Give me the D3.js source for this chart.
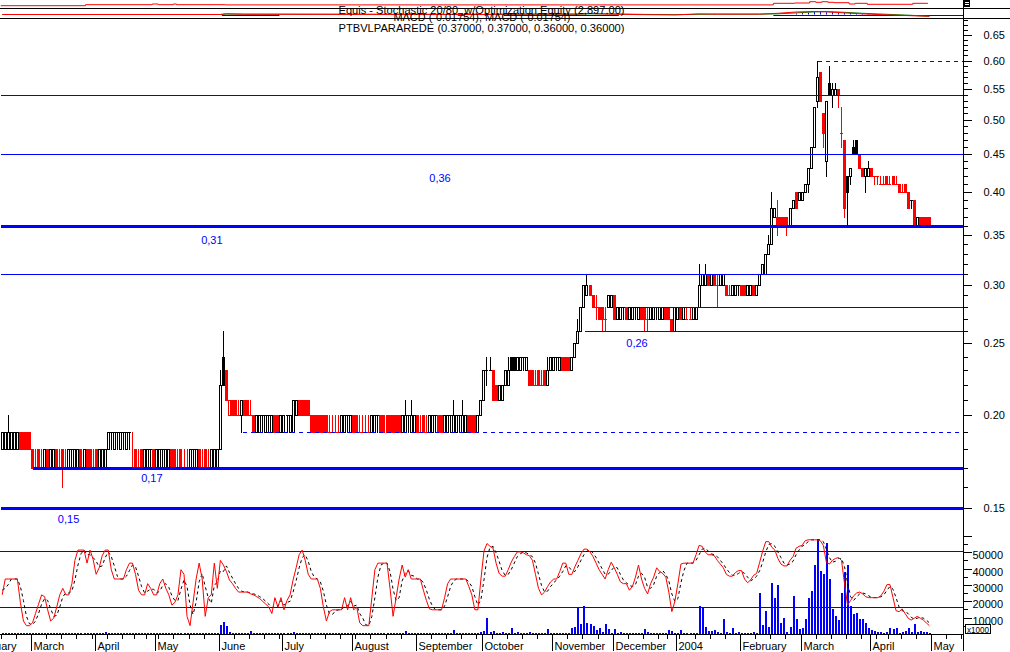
<!DOCTYPE html>
<html>
<head>
<meta charset="utf-8">
<script src="https://cdn.jsdelivr.net/npm/d3@7/dist/d3.min.js"></script>
<style>
html,body{margin:0;padding:0;background:#fff;overflow:hidden;}
svg{display:block;}
text{font-family:"Liberation Sans",Arial,sans-serif;}
</style>
</head>
<body>
<svg id="chart" width="1010" height="652"></svg>
<script>
// ================= DATA =================
// Daily candles of PTBVLPARAREDE, prices in euro cents; index 0 = 2003-02-17
const firstDate = "2003-02-17";
const opens = [18,18,18,18,18,18,19,19,19,19,
 18,17,18,17,17,18,17,17,18,17, 18,17,17,18,17,17,18,17,18,18,
 17,18,17,17,17,18,19,18,19,18, 19,18,19,17,18,17,18,17,17,18,
 18,17,17,18,17,17,18,18,17,18, 17,17,17,18,17,18,17,18,17,17,
 17,17,18,24,23,20,21,21,20,20, 21,21,20,20,19,19,20,19,20,19,
 20,20,19,19,20,19,19,20,21,21, 21,21,20,20,20,20,20,20,19,19,
 19,19,19,19,20,19,20,20,19,19, 19,19,19,19,20,20,20,20,20,20,
 20,20,19,19,20,19,19,20,19,20, 19,19,19,20,20,20,19,19,20,19,
 19,20,19,19,20,20,20,19,20,21, 23,23,23,22,21,21,22,22,24,24,
 23,23,24,23,23,23,22,23,22,23, 22,23,23,24,23,24,24,24,23,24,
 25,26,28,29,30,29,28,28,28,27, 28,28,29,27,27,28,28,27,27,28,
 27,28,28,27,27,27,28,27,27,28, 28,27,26,27,28,27,27,27,27,27,
 28,30,30,31,30,31,30,30,30,30, 29,29,29,30,30,30,29,29,30,29,
 30,31,31,33,34,37,37,37,37,37, 36,38,40,39,39,40,41,43,46,53,
 58,51,44,56,54,54,55,48,47,42, 42,46,47,45,43,42,42,43,42,42,
 41,41,42,41,42,41,41,40,41,40, 39,39,36,37,37,37,37];
const highs = [19,19,20,19,19,19,19,19,19,19,
 18,18,18,18,18,18,18,18,18,18, 18,18,18,18,18,18,18,18,18,18,
 18,18,18,18,18,19,19,19,19,19, 19,19,19,19,18,18,18,18,18,18,
 18,18,18,18,18,18,18,18,18,18, 18,18,18,18,18,18,18,18,18,18,
 18,18,23,26,23,21,21,21,21,21, 21,21,21,20,20,20,20,20,20,20,
 20,20,20,20,20,20,21,21,21,21, 21,21,20,20,20,20,20,20,20,20,
 20,20,20,20,20,20,20,20,20,20, 20,20,20,20,20,20,20,20,20,20,
 20,20,20,21,20,21,20,20,20,20, 20,20,20,20,20,20,20,20,20,21,
 20,20,21,20,20,20,20,20,21,23, 24,24,23,22,22,22,23,24,24,24,
 24,24,24,24,23,23,23,23,23,23, 24,24,24,24,24,24,24,24,24,25,
 27,28,30,31,30,29,29,28,28,28, 29,29,29,28,28,28,28,28,28,28,
 28,28,28,28,28,28,28,28,28,28, 28,27,28,28,28,28,28,28,28,28,
 32,31,32,31,31,31,31,31,31,30, 30,30,30,30,30,30,30,30,30,30,
 31,32,33,35,40,38,39,37,37,37, 38,39,40,40,40,41,43,46,52,60,
 58,51,53,59,56,56,55,52,47,42, 43,47,47,45,43,43,44,43,42,42,
 42,42,42,42,42,42,41,41,41,40, 39,39,37,37,37,37,37];
const lows = [18,18,18,18,18,18,18,18,18,18,
 17,17,17,17,17,17,17,17,17,17, 16,17,17,17,17,17,17,17,17,17,
 17,17,17,17,17,18,18,18,18,18, 18,18,18,17,17,17,17,17,17,17,
 17,17,17,17,17,17,17,17,17,17, 17,17,17,17,17,17,17,17,17,17,
 17,17,18,22,21,20,20,20,20,19, 20,20,20,19,19,19,19,19,19,19,
 19,19,19,19,19,19,19,20,20,20, 20,20,19,19,19,19,19,19,19,19,
 19,19,19,19,19,19,19,19,19,19, 19,19,19,19,19,19,19,19,19,19,
 19,19,19,19,19,19,19,19,19,19, 19,19,19,19,19,19,19,19,19,19,
 19,19,19,19,19,19,19,19,20,21, 22,23,21,21,21,21,22,22,23,23,
 23,23,23,23,22,22,22,22,22,22, 22,23,23,23,23,23,23,23,23,24,
 25,26,28,29,29,28,27,27,26,26, 28,28,27,27,27,27,27,27,27,27,
 27,27,26,26,27,27,27,27,27,27, 27,26,26,27,27,27,27,27,27,27,
 28,30,30,30,30,30,28,30,30,29, 29,29,29,29,29,29,29,29,29,29,
 30,31,31,33,34,37,35,36,36,35, 36,38,38,39,39,40,40,43,46,52,
 53,46,42,54,52,54,52,46,37,36, 41,45,45,43,42,40,42,42,41,41,
 41,41,41,41,41,41,40,40,40,38, 38,36,36,36,36,36,36];
const closes = [19,19,19,19,19,19,18,18,18,18,
 17,17,17,17,18,17,18,18,17,17, 17,17,18,18,18,18,17,18,17,17,
 17,17,18,18,18,19,19,19,19,19, 19,19,19,17,17,17,17,18,18,18,
 17,18,18,18,18,18,17,17,17,17, 17,17,18,18,18,17,17,17,17,18,
 18,18,22,22,21,21,20,20,20,21, 20,20,20,19,20,20,20,20,20,20,
 19,19,20,20,20,20,21,21,20,20, 20,20,19,19,19,19,19,19,19,19,
 19,19,20,20,20,20,19,19,19,19, 19,19,20,20,20,19,19,19,19,19,
 19,19,20,20,20,20,20,19,19,19, 19,20,20,20,19,19,20,20,20,20,
 20,20,20,20,19,19,19,20,21,23, 23,23,21,21,22,22,23,23,23,23,
 24,24,24,24,22,22,22,22,22,22, 23,24,24,24,24,23,23,23,24,25,
 26,28,30,30,29,28,28,27,27,27, 29,29,27,28,28,28,27,28,28,28,
 28,27,27,27,28,28,28,28,28,27, 27,26,28,28,27,28,27,27,28,28,
 30,31,31,30,31,30,30,31,31,29, 29,30,30,30,29,29,30,30,29,30,
 31,32,33,34,38,38,36,36,36,36, 38,39,38,40,40,41,43,46,52,57,
 53,48,53,54,55,55,54,48,38,40, 43,45,45,43,42,43,43,42,42,42,
 41,41,41,41,41,41,40,40,40,38, 39,36,37,36,36,36,36];
// volume (x1000)
const volumes = [500,600,700,400,500,600,500,400,600,500,
 500,400,600,500,700,500,400,500,600,500, 800,500,400,600,500,500,700,400,500,600,
 500,600,400,500,1400,500,600,500,400,500, 600,500,400,700,500,600,500,400,500,600,
 500,400,600,500,500,600,400,500,700,500, 600,500,400,500,600,500,400,600,500,500,
 400,600,5500,7300,4800,1000,600,500,400,600, 500,600,1800,500,400,500,600,500,400,500,
 600,500,400,500,600,500,1200,500,400,600, 500,400,600,500,500,600,400,500,600,500,
 400,500,600,500,400,600,500,500,400,600, 500,600,400,500,600,500,400,500,600,500,
 400,500,600,2000,500,400,600,500,500,400, 600,500,400,500,600,500,400,600,500,2400,
 500,400,600,500,500,600,400,500,1200,1800, 10000,1000,1800,600,500,1200,500,600,3800,500,
 1200,500,600,400,1200,500,900,500,600,400, 2800,500,600,500,400,600,500,500,3800,4400,
 16300,6000,17300,6900,6000,4800,2400,3400,1200,6000, 3000,600,3000,500,1200,500,600,400,500,600,
 500,600,3000,1200,500,400,600,500,500,600, 2400,1800,500,600,2400,500,400,600,500,600,
 17000,16300,4400,1800,1800,2400,1200,600,9100,1200, 600,3400,500,1200,500,400,600,600,1200,500,
 25200,5500,14200,4000,31500,21800,29900,6900,10000,1200, 4300,23200,9100,3000,3400,8900,22200,26200,42500,58000,
 38600,36600,55700,33900,15000,11000,8500,25200,38000,42100, 17000,12200,12600,9100,8900,6500,3900,2400,2000,1200,
 1200,600,1200,3900,2800,3400,600,1200,1800,3900, 1200,5900,1200,1800,1200,1200,800];
// Stochastic %K (red) and %D (black dashed)
const stochK = [33,50,50,50,50,50,25,5,0,0,
 3,13,23,33,31,17,5,8,20,33, 40,33,33,45,70,81,81,81,67,81,
 71,55,62,75,81,81,60,50,50,50, 50,60,67,67,55,38,33,33,45,40,
 33,33,45,50,40,33,22,25,33,60, 55,10,0,25,50,67,50,10,30,33,
 67,40,70,65,58,49,45,40,36,36, 36,36,34,33,31,29,26,23,20,13,
 30,20,30,17,27,33,49,62,76,81, 70,55,50,50,50,40,20,5,15,17,
 17,17,17,30,17,30,17,20,3,0, 0,0,30,60,67,67,67,67,40,10,
 30,50,65,52,60,50,50,50,50,38, 27,18,17,17,17,17,30,45,50,50,
 50,50,50,50,42,33,17,17,50,80, 88,85,83,67,56,53,53,60,68,74,
 79,79,78,76,75,70,55,40,33,36, 42,47,50,50,58,67,67,55,55,63,
 70,77,82,82,79,74,67,60,55,50, 60,68,62,55,47,45,45,38,42,52,
 65,50,40,34,45,52,62,58,56,52, 36,15,26,45,66,67,67,67,67,76,
 86,85,79,76,76,75,70,66,62,55, 53,53,57,59,59,50,46,49,54,56,
 68,80,90,90,84,81,72,66,64,64, 70,74,83,85,86,91,92,92,92,92,
 91,86,68,66,70,72,73,70,45,22, 27,32,35,36,34,31,30,30,30,30,
 32,37,44,44,30,16,15,18,13,8, 6,8,10,8,6,3,0];
const stochD = [38,40,44,50,50,50,42,27,10,2,
 1,5,13,23,29,27,18,10,11,20, 31,35,35,37,49,65,77,81,76,76,
 73,69,63,64,73,79,74,64,53,50, 50,53,59,65,63,53,42,35,37,39,
 39,35,37,43,45,41,32,27,27,39, 49,42,22,12,25,47,56,42,30,24,
 43,47,59,58,64,57,51,45,40,37, 36,36,35,34,33,31,29,26,23,19,
 21,21,27,22,25,26,36,48,62,73, 76,69,58,52,50,47,37,22,13,12,
 16,17,17,21,21,26,21,22,13,8, 1,0,10,30,52,65,67,67,58,39,
 27,30,48,56,59,54,53,50,50,46, 38,28,21,17,17,17,21,31,42,48,
 50,50,50,50,47,42,31,22,28,49, 73,84,85,78,69,59,54,55,60,67,
 74,77,79,78,76,74,67,55,43,36, 37,42,46,49,53,58,64,63,59,58,
 63,70,76,80,81,78,73,67,61,55, 55,59,63,62,55,49,46,43,42,44,
 53,56,52,41,40,44,53,57,59,55, 48,34,26,29,46,59,67,67,67,70,
 76,82,83,80,77,76,74,70,66,61, 57,54,54,56,58,56,52,48,50,53,
 59,68,79,87,88,85,79,73,67,65, 66,69,76,81,85,87,90,92,92,92,
 92,90,82,73,68,69,72,72,63,46, 31,27,31,34,35,34,32,30,30,30,
 31,33,38,42,39,30,20,16,15,13, 9,7,8,9,8,6,3];
const stochLevels = [80, 20];
// Price axis ticks (cents)
const priceMajorTicks = [15,20,25,30,35,40,45,50,55,60,65];
const priceMinorTicks = d3.range(15, 70);
const volumeLabelTicks = [10000,20000,30000,40000,50000];
const volumeMinorTicks = [5000,10000,15000,20000,25000,30000,35000,40000,45000,50000,55000,60000];
// Support / resistance lines (cents) and the trading-day index they start from
const supportLevels = [54,45,36,31,28,26,19,17,15,60];
const supportFrom   = [0,0,0,0,211,193,80,10.6,0,269.6];
const levelLabels      = ["0,36","0,31","0,26","0,17","0,15"];
const levelLabelIdx    = [145,69.7,210,49.9,22.4];
const levelLabelPrice  = [41.7,34.4,25.0,16.5,14.5];
// Exchange holidays (Euronext Lisbon)
const holidays = ["2003-04-18","2003-04-21","2003-05-01","2003-12-25","2003-12-26","2004-01-01","2004-04-09","2004-04-12"];
// Header mini panels: optimisation equity and MACD
const equityIdx = [0,28,50,52,57,58,74,255,262,267,269,271,273,275,280,282,286,301,306];
const equityVal = [1700,2200,2550,2200,2550,2200,2100,2900,3050,3700,3400,3700,3400,3200,2550,2900,2400,2900,2897];
const macdIdx   = [0,72,74,80,160,166,190,194,200,212,222,230,236,250,256,262,268,272,278,284,292,300,306];
const macdVal   = [0,0,0.008,0.002,0,0.004,0.005,0.01,0.004,-0.002,-0.004,0.006,0.003,0.004,0.012,0.025,0.03,0.027,0.016,0.006,-0.004,-0.012,-0.0175];
const signalVal = [0,0,0.004,0.004,0.001,0.002,0.003,0.007,0.006,0.001,-0.002,0.002,0.004,0.003,0.007,0.016,0.026,0.029,0.022,0.012,0.002,-0.008,-0.0175];
const macdHistIdx = [262,264,266,268,270,272,274,276,278,280,282,284,286,288,290];
const macdHistVal = [0.01,0.014,0.02,0.025,0.028,0.022,0.024,0.02,0.018,0.014,0.012,0.01,0.008,0.006,0.004];
const zeroFrom = [73,166,255], zeroTo = [92,204,318];

// ================= CHECK =================
const N = closes.length;
[opens,highs,lows,volumes,stochK,stochD].forEach((a,k)=>{ if(a.length!==N) throw new Error("length mismatch "+k+": "+a.length+" vs "+N); });

// ================= DRAW =================
const RED="#ff0000", BLK="#000000", BLUE="#0000ff", GRN="#008000";
const svg = d3.select("#chart");
svg.append("rect").attr("width",1010).attr("height",652).attr("fill","#fff");
const AX = 963.5;

const xS = d3.scaleLinear().domain([0,1]).range([0.7,3.73]);   // left edge of each day slot
const yP = d3.scaleLog().domain([15,60]).range([508.3,60.8]);
const yS = d3.scaleLinear().domain([20,80]).range([607,551]);
const yV = d3.scaleLinear().domain([0,50000]).range([634,552.3]);
const yEq = d3.scaleLinear().domain([1550,4550]).range([6,0]);
const yM = d3.scaleLinear().domain([-0.03,0.05]).range([17.5,9.5]);
const idx = d3.range(N);
const px = i => Math.round(xS(i));
const py = v => Math.round(yP(v));

// ---- header ----
const gH = svg.append("g");
gH.append("path").datum(equityIdx.map((d,k)=>[d,equityVal[k]]))
  .attr("d", d3.line().x(d=>xS(d[0])).y(d=>yEq(d[1])).curve(d3.curveStepAfter))
  .attr("fill","none").attr("stroke",RED).attr("stroke-width",1);
[8.5,18.5].forEach(y=>gH.append("line").attr("x1",0).attr("x2",1010).attr("y1",y).attr("y2",y).attr("stroke",BLK));
zeroFrom.forEach((f,k)=>gH.append("line").attr("x1",xS(f)).attr("x2",Math.min(AX,xS(zeroTo[k]))).attr("y1",15.5).attr("y2",15.5).attr("stroke",BLUE));
gH.selectAll(null).data(macdHistIdx).join("line")
  .attr("x1",(d)=>px(d)+1.5).attr("x2",d=>px(d)+1.5)
  .attr("y1",yM(0)).attr("y2",(d,k)=>yM(macdHistVal[k])).attr("stroke",BLUE);
gH.append("path").datum(macdIdx.map((d,k)=>[d,signalVal[k]]))
  .attr("d", d3.line().x(d=>xS(d[0])+1.5).y(d=>yM(d[1])))
  .attr("fill","none").attr("stroke",GRN);
gH.append("path").datum(macdIdx.map((d,k)=>[d,macdVal[k]]))
  .attr("d", d3.line().x(d=>xS(d[0])+1.5).y(d=>yM(d[1])))
  .attr("fill","none").attr("stroke",RED);
const hdr = [["Equis - Stochastic 20/80_w/Optimization Equity (2,897.00)",338.5,14,286],
             ["MACD (-0.01754), MACD (-0.01754)",393.5,21,177],
             ["PTBVLPARAREDE (0.37000, 0.37000, 0.36000, 0.36000)",338.5,32,286]];
hdr.forEach(h=>gH.append("text").text(h[0]).attr("x",h[1]).attr("y",h[2]).attr("font-size","10.5px")
  .attr("textLength",h[3]).attr("lengthAdjust","spacingAndGlyphs").attr("fill",BLK));
gH.append("rect").attr("x",964).attr("y",0).attr("width",6).attr("height",7).attr("fill",BLK);
[2,4].forEach(y=>gH.append("rect").attr("x",965).attr("y",y).attr("width",4).attr("height",1).attr("fill","#fff"));

// ---- candles ----
const cols = []; let pc = BLK;
closes.forEach((c,i)=>{ if(i>0){ if(c<closes[i-1]) pc=RED; else if(c>closes[i-1]) pc=BLK; } cols.push(pc); });
const gC = svg.append("g").attr("shape-rendering","crispEdges");
gC.selectAll(null).data(idx).join("rect")
  .attr("x",i=>px(i)+1).attr("y",i=>py(highs[i])).attr("width",1)
  .attr("height",i=>py(lows[i])-py(highs[i])+1).attr("fill",i=>cols[i]);
gC.selectAll(null).data(idx).join("rect")
  .attr("x",px).attr("y",i=>py(Math.max(opens[i],closes[i]))).attr("width",3)
  .attr("height",i=>Math.max(1,py(Math.min(opens[i],closes[i]))-py(Math.max(opens[i],closes[i]))+1))
  .attr("fill",i=>cols[i]);
gC.selectAll(null).data(idx.filter(i=>closes[i]>opens[i] && py(opens[i])-py(closes[i])>1)).join("rect")
  .attr("x",i=>px(i)+1).attr("y",i=>py(closes[i])+1).attr("width",1)
  .attr("height",i=>py(opens[i])-py(closes[i])-1).attr("fill","#fff");

// ---- support / resistance lines ----
const thick = new Set([36,17,15]), dashed = new Set([19,60]);
const gL = svg.append("g");
supportLevels.forEach((lv,k)=>{
  const y = thick.has(lv) ? Math.round(yP(lv)) : Math.round(yP(lv))+0.5;
  gL.append("line").attr("x1",xS(supportFrom[k])).attr("x2",AX-0.5).attr("y1",y).attr("y2",y)
    .attr("stroke",BLUE).attr("stroke-width",thick.has(lv)?3:1)
    .attr("stroke-dasharray",dashed.has(lv)?"4,4":null).attr("shape-rendering","crispEdges");
});
levelLabels.forEach((t,k)=>gL.append("text").text(t).attr("x",xS(levelLabelIdx[k])).attr("y",yP(levelLabelPrice[k])+4)
  .attr("text-anchor","middle").attr("font-size","11px").attr("fill",BLUE));

// ---- lower panel: volume + stochastic ----
const gS = svg.append("g");
gS.selectAll(null).data(idx).join("rect").attr("shape-rendering","crispEdges")
  .attr("x",i=>px(i)+1).attr("width",2)
  .attr("y",i=>634-Math.max(1,Math.round(634-yV(volumes[i]))))
  .attr("height",i=>Math.max(1,Math.round(634-yV(volumes[i])))).attr("fill",BLUE);
stochLevels.forEach(l=>gS.append("line").attr("x1",0).attr("x2",AX).attr("y1",Math.round(yS(l))+0.5).attr("y2",Math.round(yS(l))+0.5).attr("stroke",BLUE));
gS.append("path").datum(stochD).attr("d",d3.line().x((d,i)=>xS(i)+1.5).y(d=>yS(d)))
  .attr("fill","none").attr("stroke",BLK).attr("stroke-dasharray","3,3");
gS.append("path").datum(stochK).attr("d",d3.line().x((d,i)=>xS(i)+1.5).y(d=>yS(d)))
  .attr("fill","none").attr("stroke",RED);

// ---- right axis ----
const gA = svg.append("g").attr("shape-rendering","crispEdges");
gA.append("line").attr("x1",AX).attr("x2",AX).attr("y1",0).attr("y2",651).attr("stroke",BLK);
const minorP = gA.append("g").attr("transform",`translate(${AX},0)`)
  .call(d3.axisRight(yP).tickValues(priceMinorTicks.filter(v=>yP(v)>=18)).tickSize(4).tickFormat(""));
const majorP = gA.append("g").attr("transform",`translate(${AX},0)`)
  .call(d3.axisRight(yP).tickValues(priceMajorTicks).tickSize(8).tickPadding(12).tickFormat(d=>(d/100).toFixed(2)));
const minorV = gA.append("g").attr("transform",`translate(${AX},0)`)
  .call(d3.axisRight(yV).tickValues(volumeMinorTicks).tickSize(4).tickFormat(""));
const majorV = gA.append("g").attr("transform",`translate(${AX},0)`)
  .call(d3.axisRight(yV).tickValues(volumeLabelTicks.concat([60000])).tickSize(8).tickPadding(1).tickFormat(d=>d<60000?d:""));
[minorP,majorP,minorV,majorV].forEach(g=>{
  g.select(".domain").remove();
  g.selectAll("line").attr("stroke",BLK);
  g.selectAll("text").attr("font-size","11px").attr("font-family","'Liberation Sans',Arial,sans-serif").attr("fill",BLK);
});
majorV.selectAll("text").attr("dy","0.6em");
gA.append("rect").attr("x",965.5).attr("y",624.5).attr("width",25).attr("height",9).attr("fill","#fff").attr("stroke",BLK);
gA.append("text").text("x1000").attr("x",967).attr("y",632.5).attr("font-size","9px").attr("fill",BLK)
  .attr("textLength",22).attr("lengthAdjust","spacingAndGlyphs");

// ---- bottom time axis ----
const fmt = d3.timeFormat("%Y-%m-%d");
const days = d3.timeDay.range(new Date(2003,1,3), new Date(2004,4,25))
  .filter(d=>{const w=d.getDay(); return w>0 && w<6 && !holidays.includes(fmt(d));});
const k0 = days.findIndex(d=>fmt(d)===firstDate);
const monthTicks=[], weekTicks=[];
days.forEach((d,k)=>{
  const i=k-k0;
  if(k===0 || d.getMonth()!==days[k-1].getMonth()) monthTicks.push({i,d});
  else if(d.getDay()<days[k-1].getDay()) weekTicks.push(i);
});
const gX = svg.append("g").attr("shape-rendering","crispEdges");
gX.append("line").attr("x1",0).attr("x2",AX).attr("y1",634.5).attr("y2",634.5).attr("stroke",BLK);
weekTicks.filter(i=>xS(i)>=0 && xS(i)<=AX).forEach(i=>{
  const xx=Math.round(xS(i))+0.5;
  gX.append("line").attr("x1",xx).attr("x2",xx).attr("y1",634).attr("y2",639).attr("stroke",BLK);
});
const mName = d3.timeFormat("%B");
monthTicks.forEach(m=>{
  const xx=Math.round(xS(m.i))+0.5;
  if(xx>=0 && xx<=AX) gX.append("line").attr("x1",xx).attr("x2",xx).attr("y1",634).attr("y2",651).attr("stroke",BLK);
  if(xx<AX-10) gX.append("text").text(m.d.getMonth()===0? m.d.getFullYear() : mName(m.d))
    .attr("x",xx+2).attr("y",650).attr("font-size","11px").attr("fill",BLK);
});
</script>
</body>
</html>
